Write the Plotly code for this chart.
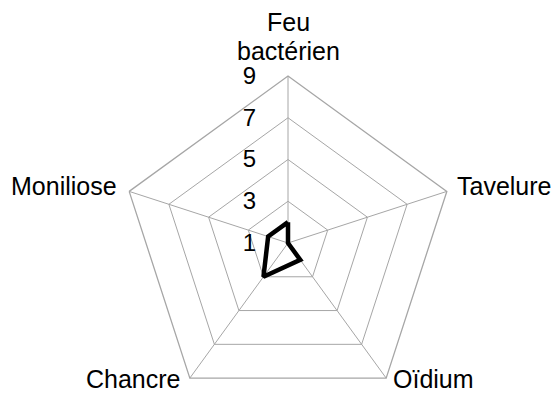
import plotly.graph_objects as go

categories = ["Feu<br>bactérien", "Tavelure", "Oïdium", "Chancre", "Moniliose"]
values = [2, 1, 2, 3, 2]
tick_vals = [1, 3, 5, 7, 9]
tick_text = ["1", "3", "5", "7", "9"]

W, H = 560, 410
OFF = 8  # page offset of the figure (body margin)
CX, CY, R = 288 - OFF, 243 - OFF, 167  # centre / radius of the polar area in figure pixels

grid_col = "#a6a6a6"
FONT_FAMILY = "Liberation Sans, Arial, sans-serif"
tick_font = dict(family=FONT_FAMILY, size=24, color="#000000")
cat_font = dict(family=FONT_FAMILY, size=25, color="#000000")

fig = go.Figure()
fig.add_trace(go.Scatterpolar(
    r=values + values[:1],
    theta=categories + categories[:1],
    mode="lines",
    line=dict(color="#000000", width=4.5),
    fill="none",
    showlegend=False,
    hoverinfo="skip",
))

# category labels placed beside the outer vertices, as in the reference
label_pos = {
    "Feu<br>bactérien": [(288, 21.5, "center"), (288, 51, "center")],
    "Tavelure": [(455, 186.5, "left")],
    "Oïdium": [(391, 379, "left")],
    "Chancre": [(183, 379, "right")],
    "Moniliose": [(119, 186.5, "right")],
}
for cat in categories:
    parts = cat.split("<br>")
    for part, (px, py, anchor) in zip(parts, label_pos[cat]):
        fig.add_annotation(
            x=(px - OFF) / W, y=1 - (py - OFF) / H, xref="paper", yref="paper",
            text=part, showarrow=False, xanchor=anchor, yanchor="middle",
            font=cat_font,
        )

fig.update_layout(
    width=W,
    height=H,
    margin=dict(l=0, r=0, t=0, b=0),
    paper_bgcolor="white",
    polar=dict(
        domain=dict(x=[(CX - R) / W, (CX + R) / W],
                    y=[max(0, (H - CY - R) / H), (H - CY + R) / H]),
        bgcolor="white",
        gridshape="linear",
        radialaxis=dict(
            range=[1, 9],
            tickvals=tick_vals,
            ticktext=tick_text,
            angle=90,
            tickangle=90,
            side="counterclockwise",
            showline=False,
            ticks="outside",
            ticklen=23,
            tickcolor="rgba(0,0,0,0)",
            gridcolor=grid_col,
            gridwidth=1.3,
            tickfont=tick_font,
        ),
        angularaxis=dict(
            direction="clockwise",
            rotation=90,
            showline=True,
            linecolor=grid_col,
            linewidth=1.3,
            gridcolor=grid_col,
            gridwidth=1.3,
            ticks="",
            showticklabels=False,
        ),
    ),
)

fig.write_html("out.html")
